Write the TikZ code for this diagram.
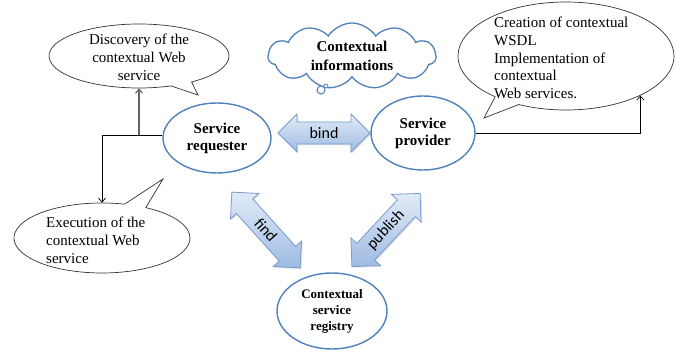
\documentclass[tikz,border=0pt]{standalone}
\usepackage{fontspec}
\setmainfont{Liberation Serif}
\newfontfamily\calfont{Carlito}
\usetikzlibrary{shapes.geometric,shapes.symbols,shapes.callouts,shapes.arrows,arrows.meta,shadows}
\definecolor{eblue}{RGB}{79,129,189}
\definecolor{abord}{RGB}{120,155,205}
\definecolor{atop}{RGB}{226,235,247}
\definecolor{abot}{RGB}{158,187,226}
\begin{document}
\begin{tikzpicture}[x=1pt,y=-1pt,
  actor/.style={ellipse, draw=eblue, line width=1.4pt, fill=white, font=\bfseries\fontsize{15}{17}\selectfont, align=center, inner sep=0pt},
  callbox/.style={ellipse callout, draw=black!80, line width=0.7pt, fill=white, inner sep=0pt},
  txt/.style={font=\fontsize{15}{17.8}\selectfont, inner sep=0pt},
  blockarrow/.style={double arrow, draw=abord, line width=0.8pt, top color=atop, bottom color=abot, double arrow head extend=8pt, minimum width=38pt, inner xsep=2pt, inner ysep=5pt, font=\calfont\fontsize{16}{16}\selectfont, drop shadow={opacity=0.25, shadow xshift=1.2pt, shadow yshift=-1.2pt}},
  conn/.style={draw=black, line width=0.7pt, -{Straight Barb[length=4pt,width=7pt]}}
]
\useasboundingbox (0,0) rectangle (677,352);

% callouts
\node[callbox, minimum width=180pt, minimum height=64pt, callout absolute pointer={(198,95)}] (disc) at (139,56) {};
\node[txt, align=center] (disctext) at (139,57) {Discovery of the\\contextual Web\\service};

\node[callbox, minimum width=176pt, minimum height=70pt, callout absolute pointer={(163,179)}] (exec) at (102,238) {};
\node[txt, align=left, anchor=west] (exectext) at (46,240) {Execution of the\\contextual Web\\service};

\node[callbox, minimum width=216pt, minimum height=108pt, callout absolute pointer={(484,118)}] (creat) at (566,56) {};
\node[txt, align=left, anchor=west] (creattext) at (494,58) {Creation of contextual\\WSDL\\Implementation of\\contextual\\Web services.};

% cloud
\node[cloud, draw=eblue, line width=1.3pt, fill=white, cloud puffs=11, cloud puff arc=115, aspect=2.6, minimum width=168pt, minimum height=66pt, inner sep=0pt, font=\bfseries\fontsize{15}{19}\selectfont, align=center] (cloud) at (352,56) {Contextual\\informations};
\node[circle, draw=eblue, line width=1pt, fill=white, minimum size=8pt, inner sep=0pt] (bub1) at (321,90) {};
\node[circle, draw=eblue, line width=0.8pt, fill=white, minimum size=4pt, inner sep=0pt] (bub2) at (326,86) {};

% actors
\node[actor, minimum width=108pt, minimum height=70pt] (req) at (217,138) {Service\\requester};
\node[actor, minimum width=104pt, minimum height=74pt] (prov) at (423,133) {Service\\provider};
\node[actor, minimum width=110pt, minimum height=76pt, font=\bfseries\fontsize{13}{16}\selectfont] (reg) at (332,311) {Contextual\\service\\registry};

% block arrows
\node[blockarrow, minimum height=92pt] (bind) at (324,133) {bind};
\node[blockarrow, minimum height=102pt, rotate=-48] (find) at (266,230) {find};
\node[blockarrow, minimum height=100pt, rotate=47] (publish) at (386,230) {publish};

% connectors
\coordinate (rw) at ([yshift=3pt]req.west);
\draw[conn] (rw) -| (exec.north);
\draw[conn, draw=black!60, line width=1.1pt] (disc.south |- rw) -- (disc.south);
\draw[conn] (prov.east) -| (creat.-28);
\end{tikzpicture}
\end{document}
